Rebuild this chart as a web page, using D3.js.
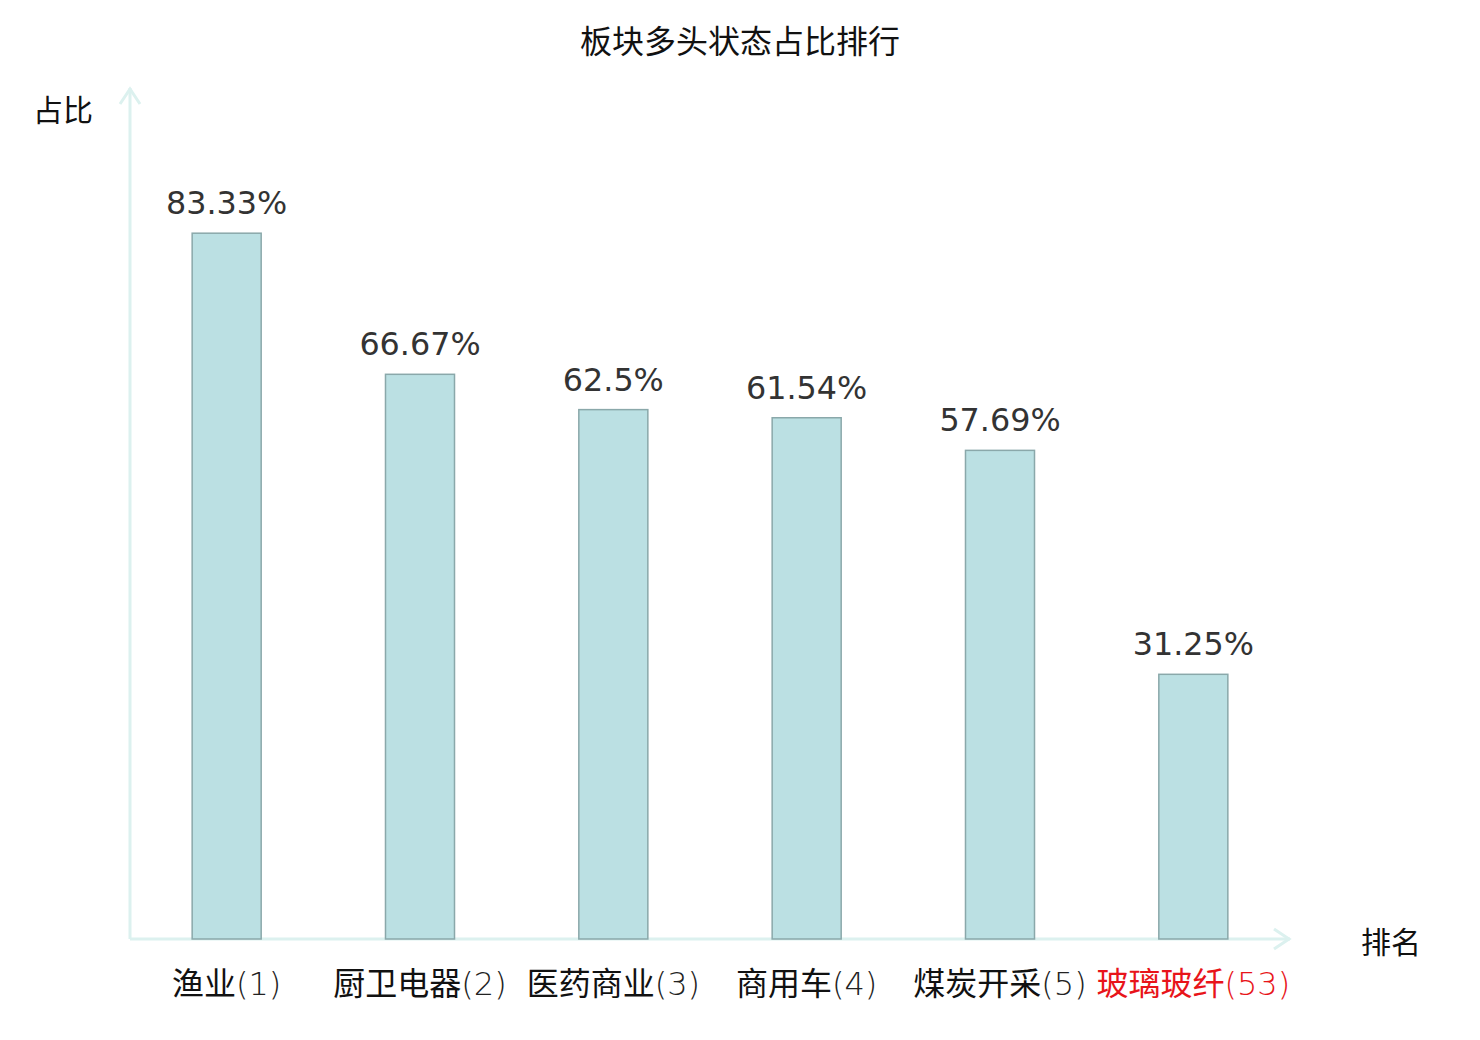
<!DOCTYPE html>
<html>
<head>
<meta charset="utf-8">
<script src="https://cdn.jsdelivr.net/npm/d3@7"></script>
<style>
  body { margin: 0; background: #fff; }
</style>
</head>
<body>
<svg></svg>
<script>
let svgWidth = 1480;
let svgHeight = 1040;

// data
let sectors = ["渔业", "厨卫电器", "医药商业", "商用车", "煤炭开采", "玻璃玻纤"];
let ranks = [1, 2, 3, 4, 5, 53];
let ratios = [83.33, 66.67, 62.5, 61.54, 57.69, 31.25];
let highlight = [false, false, false, false, false, true];

let left = 130, right = 1290, baseY = 939, topY = 92;
let cjk = "'Noto Sans CJK SC', sans-serif";
let mixed = "'DejaVu Sans', 'Noto Sans CJK SC', sans-serif";

var svg = d3.select("svg")
    .attr("width", svgWidth)
    .attr("height", svgHeight);

let xScale = d3.scaleBand()
    .domain(sectors)
    .range([left, right])
    .paddingInner(0.643)
    .paddingOuter(0.3215);

let yScale = d3.scaleLinear()
    .domain([0, 100])
    .range([baseY, topY]);

// title
svg.append("text")
    .text("板块多头状态占比排行")
    .attr("x", svgWidth / 2)
    .attr("y", 53)
    .style("font-family", cjk)
    .style("font-size", "32px")
    .attr("fill", "#111")
    .attr("text-anchor", "middle");

// axes with arrows
let axisColor = "#dcf1ef";
svg.append("line")
    .attr("x1", left).attr("y1", baseY)
    .attr("x2", left).attr("y2", 88)
    .attr("stroke", axisColor).attr("stroke-width", 3);
svg.append("polyline")
    .attr("points", `${left - 10},${104} ${left},${89} ${left + 10},${104}`)
    .attr("fill", "none").attr("stroke", axisColor).attr("stroke-width", 3);
svg.append("line")
    .attr("x1", left).attr("y1", baseY)
    .attr("x2", 1290).attr("y2", baseY)
    .attr("stroke", axisColor).attr("stroke-width", 3);
svg.append("polyline")
    .attr("points", `${1274},${baseY - 10} ${1289},${baseY} ${1274},${baseY + 10}`)
    .attr("fill", "none").attr("stroke", axisColor).attr("stroke-width", 3);

// axis names
svg.append("text")
    .text("占比")
    .attr("x", 33).attr("y", 121)
    .style("font-family", cjk)
    .style("font-size", "30px").attr("fill", "#111");
svg.append("text")
    .text("排名")
    .attr("x", 1361).attr("y", 953)
    .style("font-family", cjk)
    .style("font-size", "30px").attr("fill", "#111");

// bars
svg.selectAll("rect.bar")
    .data(sectors)
    .enter()
    .append("rect")
    .attr("class", "bar")
    .attr("x", d => xScale(d))
    .attr("width", xScale.bandwidth())
    .attr("y", (d, i) => yScale(ratios[i]))
    .attr("height", (d, i) => baseY - yScale(ratios[i]))
    .attr("fill", "#bbe0e3")
    .attr("stroke", "#8aa8aa")
    .attr("stroke-width", 1.5);

// value labels
svg.selectAll("text.value")
    .data(sectors)
    .enter()
    .append("text")
    .attr("class", "value")
    .text((d, i) => ratios[i] + "%")
    .attr("x", d => xScale(d) + xScale.bandwidth() / 2)
    .attr("y", (d, i) => yScale(ratios[i]) - 19)
    .style("font-family", "'DejaVu Sans', sans-serif")
    .style("font-size", "31.8px")
    .attr("fill", "#333")
    .attr("text-anchor", "middle");

// category labels
let cat = svg.selectAll("text.cat")
    .data(sectors)
    .enter()
    .append("text")
    .attr("class", "cat")
    .attr("x", d => xScale(d) + xScale.bandwidth() / 2)
    .attr("y", 995)
    .style("font-family", mixed)
    .style("font-size", "32px")
    .attr("text-anchor", "middle")
    .attr("fill", (d, i) => highlight[i] ? "#e8141a" : "#111");
cat.append("tspan").text(d => d);
cat.append("tspan")
    .text((d, i) => "(" + ranks[i] + ")")
    .style("font-weight", 200)
    .attr("fill", (d, i) => highlight[i] ? "#e8141a" : "#222");
</script>
</body>
</html>
